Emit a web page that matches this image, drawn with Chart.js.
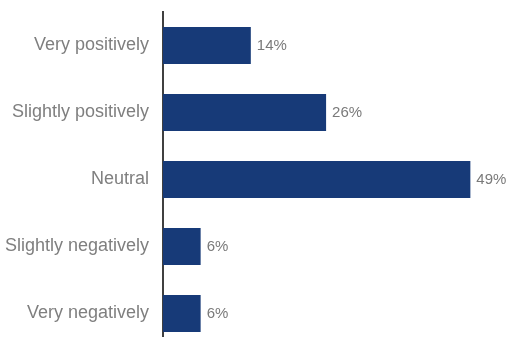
<!DOCTYPE html>
<html>
<head>
<meta charset="utf-8">
<script src="https://cdn.jsdelivr.net/npm/chart.js@4"></script>
<style>
  html, body { margin:0; padding:0; background:#fff; overflow:hidden; }
</style>
</head>
<body>
<canvas id="chartCanvas" width="508" height="347" style="display:block;width:508px;height:347px"></canvas>
<script>
// ---------- DATA ----------
const categories = ["Very positively","Slightly positively","Neutral","Slightly negatively","Very negatively"];
const shares = [14, 26, 49, 6, 6];

// value labels at bar end
const endLabels = {
  id:'endLabels',
  afterDatasetsDraw(chart){
    const ctx = chart.ctx;
    const meta = chart.getDatasetMeta(0);
    ctx.save();
    ctx.font = "15px 'Liberation Sans', Arial, sans-serif";
    ctx.fillStyle = "#7a7a7a";
    ctx.textBaseline = "middle";
    ctx.textAlign = "left";
    meta.data.forEach((bar,i)=>{
      ctx.fillText(shares[i]+"%", bar.x+6, bar.y);
    });
    ctx.restore();
  }
};

new Chart(document.getElementById("chartCanvas"),{
  type:'bar',
  data:{
    labels:categories,
    datasets:[{
      data:shares,
      backgroundColor:"#173a78",
      barPercentage:0.55,
      categoryPercentage:1
    }]
  },
  options:{
    indexAxis:'y',
    responsive:false,
    animation:false,
    layout:{padding:{top:12,right:0,bottom:0,left:0}},
    plugins:{legend:{display:false},tooltip:{enabled:false}},
    scales:{
      x:{
        min:0, max:55,
        display:false
      },
      y:{
        grid:{display:false, drawTicks:false},
        border:{display:true, color:"#404040", width:2},
        ticks:{
          color:"#7f7f7f",
          padding:14,
          font:{family:"'Liberation Sans', Arial, sans-serif", size:18}
        },
        afterFit(scale){
          scale.width = 163;
          scale.paddingTop = 0;
          scale.paddingBottom = 0;
        }
      }
    }
  },
  plugins:[endLabels]
});
</script>
</body>
</html>
